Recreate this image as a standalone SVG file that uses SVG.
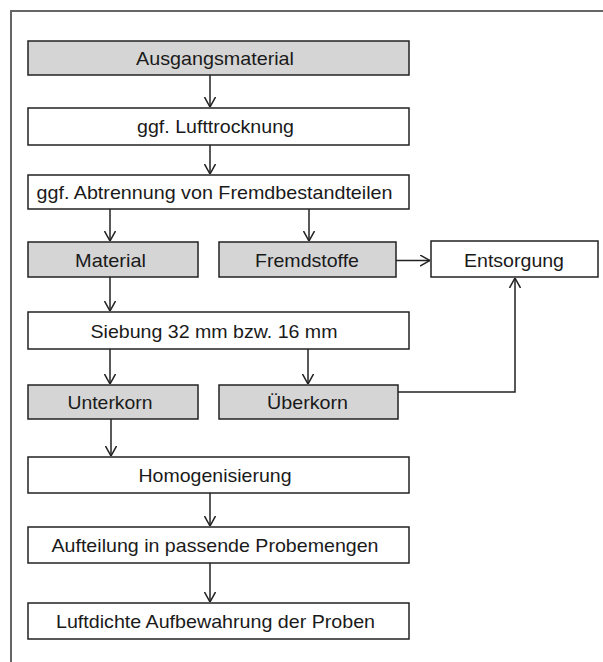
<svg xmlns="http://www.w3.org/2000/svg" width="603" height="662" viewBox="0 0 603 662">
<style>
.box{stroke:#222;stroke-width:1.5}
.g{fill:#d5d5d5}
.w{fill:#fff}
text{font-family:"Liberation Sans",Arial,sans-serif;font-size:18.5px;fill:#1a1a1a;text-anchor:middle}
.c{fill:none;stroke:#222;stroke-width:1.5}
</style>
<defs>
<marker id="ah" viewBox="0 0 10 12" refX="10" refY="6" markerWidth="10" markerHeight="12" markerUnits="userSpaceOnUse" orient="auto">
<polyline points="0,0.5 10,6 0,11.5" fill="none" stroke="#222" stroke-width="1.5"/>
</marker>
</defs>
<rect width="603" height="662" fill="#fff"/>
<path d="M11,662 V11 H603" fill="none" stroke="#666" stroke-width="2"/>
<g id="connectors">
<path class="c" d="M210,75 V107" marker-end="url(#ah)"/>
<path class="c" d="M210,145 V174" marker-end="url(#ah)"/>
<path class="c" d="M110,209 V241" marker-end="url(#ah)"/>
<path class="c" d="M309,209 V241" marker-end="url(#ah)"/>
<path class="c" d="M396,260.5 H430" marker-end="url(#ah)"/>
<path class="c" d="M110,277 V311" marker-end="url(#ah)"/>
<path class="c" d="M110,349 V384" marker-end="url(#ah)"/>
<path class="c" d="M308,349 V384" marker-end="url(#ah)"/>
<path class="c" d="M398,392 H515 V278" marker-end="url(#ah)"/>
<path class="c" d="M111,419 V456" marker-end="url(#ah)"/>
<path class="c" d="M210,493 V526" marker-end="url(#ah)"/>
<path class="c" d="M210,563 V602" marker-end="url(#ah)"/>
</g>
<g id="n1"><rect class="box g" x="28" y="41" width="381" height="34"/><text x="215" y="65" textLength="158" lengthAdjust="spacingAndGlyphs">Ausgangsmaterial</text></g>
<g id="n2"><rect class="box w" x="28" y="108" width="381" height="37"/><text x="215.5" y="133" textLength="157" lengthAdjust="spacingAndGlyphs">ggf. Lufttrocknung</text></g>
<g id="n3"><rect class="box w" x="28" y="175" width="381" height="34"/><text x="214.5" y="199" textLength="356" lengthAdjust="spacingAndGlyphs">ggf. Abtrennung von Fremdbestandteilen</text></g>
<g id="n4"><rect class="box g" x="28" y="242" width="170" height="35"/><text x="110.5" y="266.5" textLength="71" lengthAdjust="spacingAndGlyphs">Material</text></g>
<g id="n5"><rect class="box g" x="219" y="242" width="177" height="35"/><text x="307" y="266.5" textLength="104" lengthAdjust="spacingAndGlyphs">Fremdstoffe</text></g>
<g id="n6"><rect class="box w" x="431" y="241" width="167" height="36"/><text x="514" y="266.5" textLength="100" lengthAdjust="spacingAndGlyphs">Entsorgung</text></g>
<g id="n7"><rect class="box w" x="28" y="312" width="381" height="37"/><text x="214" y="337.5" textLength="247" lengthAdjust="spacingAndGlyphs">Siebung 32 mm bzw. 16 mm</text></g>
<g id="n8"><rect class="box g" x="28" y="385" width="170" height="34"/><text x="110" y="409" textLength="85" lengthAdjust="spacingAndGlyphs">Unterkorn</text></g>
<g id="n9"><rect class="box g" x="219" y="385" width="179" height="34"/><text x="307.5" y="409" textLength="81" lengthAdjust="spacingAndGlyphs">Überkorn</text></g>
<g id="n10"><rect class="box w" x="28" y="457" width="381" height="36"/><text x="215" y="481.5" textLength="153" lengthAdjust="spacingAndGlyphs">Homogenisierung</text></g>
<g id="n11"><rect class="box w" x="28" y="527" width="381" height="36"/><text x="215" y="551.5" textLength="327" lengthAdjust="spacingAndGlyphs">Aufteilung in passende Probemengen</text></g>
<g id="n12"><rect class="box w" x="28" y="603" width="381" height="36"/><text x="215.5" y="627.5" textLength="319" lengthAdjust="spacingAndGlyphs">Luftdichte Aufbewahrung der Proben</text></g>
</svg>
